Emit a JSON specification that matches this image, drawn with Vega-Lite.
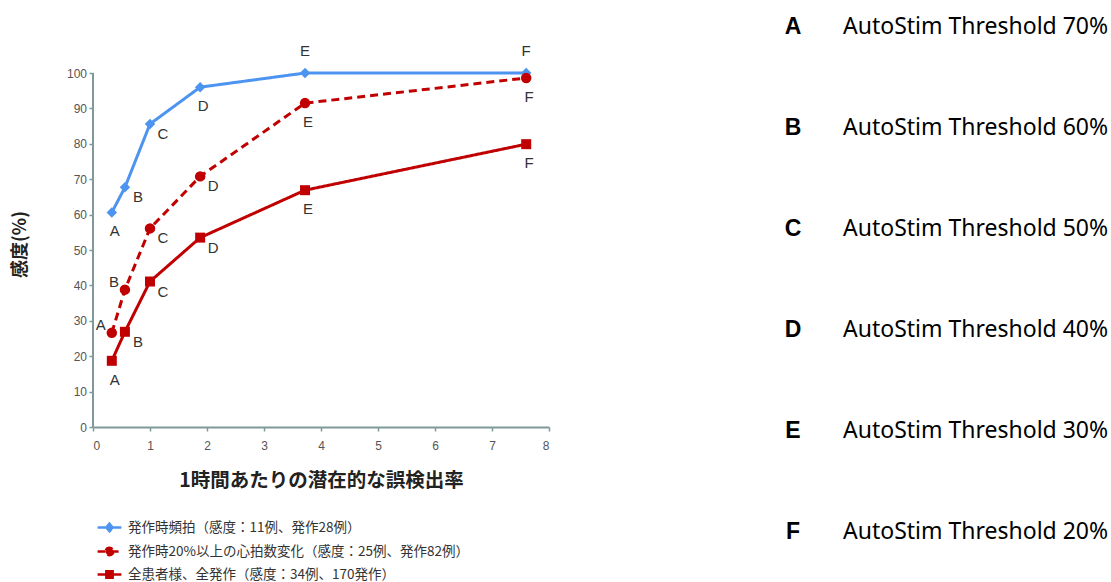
{
  "$schema": "https://vega.github.io/schema/vega-lite/v6.json",
  "background": "white",
  "padding": {"left": 11, "top": 16, "right": 0, "bottom": 0},
  "spacing": 223,
  "config": {"view": {"stroke": null}},
  "datasets": {
    "pts": [
      {"sid": "t", "series": "発作時頻拍（感度：11例、発作28例）", "label": "A", "rate": 0.33, "sens": 60.6},
      {"sid": "t", "series": "発作時頻拍（感度：11例、発作28例）", "label": "B", "rate": 0.56, "sens": 67.7},
      {"sid": "t", "series": "発作時頻拍（感度：11例、発作28例）", "label": "C", "rate": 1.0, "sens": 85.6},
      {"sid": "t", "series": "発作時頻拍（感度：11例、発作28例）", "label": "D", "rate": 1.88, "sens": 96.0},
      {"sid": "t", "series": "発作時頻拍（感度：11例、発作28例）", "label": "E", "rate": 3.72, "sens": 100},
      {"sid": "t", "series": "発作時頻拍（感度：11例、発作28例）", "label": "F", "rate": 7.6, "sens": 100},
      {"sid": "h", "series": "発作時20%以上の心拍数変化（感度：25例、発作82例）", "label": "A", "rate": 0.33, "sens": 26.6},
      {"sid": "h", "series": "発作時20%以上の心拍数変化（感度：25例、発作82例）", "label": "B", "rate": 0.56, "sens": 38.8},
      {"sid": "h", "series": "発作時20%以上の心拍数変化（感度：25例、発作82例）", "label": "C", "rate": 1.0, "sens": 56.1},
      {"sid": "h", "series": "発作時20%以上の心拍数変化（感度：25例、発作82例）", "label": "D", "rate": 1.88, "sens": 70.8},
      {"sid": "h", "series": "発作時20%以上の心拍数変化（感度：25例、発作82例）", "label": "E", "rate": 3.72, "sens": 91.5},
      {"sid": "h", "series": "発作時20%以上の心拍数変化（感度：25例、発作82例）", "label": "F", "rate": 7.6, "sens": 98.6},
      {"sid": "a", "series": "全患者様、全発作（感度：34例、170発作）", "label": "A", "rate": 0.33, "sens": 18.7},
      {"sid": "a", "series": "全患者様、全発作（感度：34例、170発作）", "label": "B", "rate": 0.56, "sens": 26.9},
      {"sid": "a", "series": "全患者様、全発作（感度：34例、170発作）", "label": "C", "rate": 1.0, "sens": 41.1},
      {"sid": "a", "series": "全患者様、全発作（感度：34例、170発作）", "label": "D", "rate": 1.88, "sens": 53.5},
      {"sid": "a", "series": "全患者様、全発作（感度：34例、170発作）", "label": "E", "rate": 3.72, "sens": 66.9},
      {"sid": "a", "series": "全患者様、全発作（感度：34例、170発作）", "label": "F", "rate": 7.6, "sens": 79.9}
    ],
    "keys": [
      {"letter": "A", "desc": "AutoStim Threshold 70%"},
      {"letter": "B", "desc": "AutoStim Threshold 60%"},
      {"letter": "C", "desc": "AutoStim Threshold 50%"},
      {"letter": "D", "desc": "AutoStim Threshold 40%"},
      {"letter": "E", "desc": "AutoStim Threshold 30%"},
      {"letter": "F", "desc": "AutoStim Threshold 20%"}
    ]
  },
  "hconcat": [
    {
      "width": 456,
      "height": 400,
      "data": {"name": "pts"},
      "encoding": {
        "x": {
          "field": "rate", "type": "quantitative",
          "scale": {"domain": [0, 8], "nice": false, "zero": true},
          "axis": {
            "title": "1時間あたりの潜在的な誤検出率", "values": [0,1,2,3,4,5,6,7,8],
            "grid": false, "domainColor": "#7f9999", "domainWidth": 2, "tickColor": "#7f9999", "tickWidth": 1.5, "tickSize": 4,
            "labelFont": "Liberation Sans", "labelFontSize": 12, "labelColor": "#555555", "labelPadding": 9.5,
            "titleFont": "Noto Sans CJK JP", "titleFontSize": 19.5, "titleFontWeight": "bold", "titleColor": "#222222", "titlePadding": 20
          }
        },
        "y": {
          "field": "sens", "type": "quantitative",
          "scale": {"domain": [0, 113], "nice": false},
          "axis": {
            "title": "感度(%)", "values": [0,10,20,30,40,50,60,70,80,90,100],
            "grid": false, "domain": false, "tickColor": "#7f9999", "tickWidth": 1.5, "tickSize": 4,
            "labelFont": "Liberation Sans", "labelFontSize": 12, "labelColor": "#555555", "labelPadding": 2.5,
            "titleFont": "Noto Sans CJK JP", "titleFontSize": 18, "titleFontWeight": "bold", "titleColor": "#222222", "titlePadding": 37, "titleY": 217
          }
        }
      },
      "layer": [
        {
          "mark": {"type": "rule", "color": "#7f9999", "strokeWidth": 2},
          "encoding": {"x": {"datum": 0}, "y": {"datum": 0}, "y2": {"datum": 100}}
        },
        {
          "mark": {"type": "line", "strokeWidth": 3},
          "encoding": {
            "color": {
              "field": "series", "type": "nominal",
              "scale": {
                "domain": ["発作時頻拍（感度：11例、発作28例）", "発作時20%以上の心拍数変化（感度：25例、発作82例）", "全患者様、全発作（感度：34例、170発作）"],
                "range": ["#4d94f0", "#c00000", "#c00000"]
              },
              "legend": {
                "title": null, "orient": "none", "legendX": 8, "legendY": 492,
                "labelFont": "Noto Sans CJK JP", "labelFontSize": 13.5, "labelColor": "#333333", "labelOffset": 10, "labelLimit": 0,
                "symbolSize": 196, "symbolStrokeWidth": 2.5, "rowPadding": 5,
                "encode": {
                  "symbols": {
                    "update": {
                      "shape": {"signal": "datum.index == 0 ? 'M-1.7,0L1.7,0M0,-0.55L0.45,0L0,0.55L-0.45,0Z' : datum.index == 1 ? 'M-1.7,0L1.7,0M0.55,0A0.55,0.55,0,1,1,-0.55,0A0.55,0.55,0,1,1,0.55,0Z' : 'M-1.7,0L1.7,0M-0.45,-0.45L0.45,-0.45L0.45,0.45L-0.45,0.45Z'"},
                      "fill": {"signal": "datum.index == 0 ? '#4d94f0' : '#c00000'"},
                      "stroke": {"signal": "datum.index == 0 ? '#4d94f0' : '#c00000'"},
                      "strokeDash": {"signal": "datum.index == 1 ? [5, 3] : [1, 0]"}
                    }
                  }
                }
              }
            },
            "strokeDash": {
              "field": "series", "type": "nominal",
              "scale": {
                "domain": ["発作時頻拍（感度：11例、発作28例）", "発作時20%以上の心拍数変化（感度：25例、発作82例）", "全患者様、全発作（感度：34例、170発作）"],
                "range": [[1, 0], [8, 5], [1, 0]]
              },
              "legend": null
            }
          }
        },
        {
          "transform": [{"filter": "datum.sid == 't'"}],
          "mark": {"type": "point", "filled": true, "opacity": 1, "shape": "diamond", "size": 110},
          "encoding": {"color": {"field": "series", "type": "nominal", "legend": null}}
        },
        {
          "transform": [{"filter": "datum.sid == 'h'"}],
          "mark": {"type": "point", "filled": true, "opacity": 1, "shape": "circle", "size": 110},
          "encoding": {"color": {"field": "series", "type": "nominal", "legend": null}}
        },
        {
          "transform": [{"filter": "datum.sid == 'a'"}],
          "mark": {"type": "point", "filled": true, "opacity": 1, "shape": "square", "size": 100},
          "encoding": {"color": {"field": "series", "type": "nominal", "legend": null}}
        },
        {
          "transform": [{"filter": "(datum.sid == 't' && (datum.label == 'A' || datum.label == 'D')) || (datum.sid == 'h' && (datum.label == 'E' || datum.label == 'F')) || (datum.sid == 'a' && (datum.label == 'A' || datum.label == 'E' || datum.label == 'F'))"}],
          "mark": {"type": "text", "dx": 3, "dy": 19, "font": "Liberation Sans", "fontSize": 15, "color": "#333333"},
          "encoding": {"text": {"field": "label"}}
        },
        {
          "transform": [{"filter": "(datum.label == 'B' && datum.sid != 'h') || datum.label == 'C' || (datum.sid == 'h' && datum.label == 'D') || (datum.sid == 'a' && datum.label == 'D')"}],
          "mark": {"type": "text", "dx": 13, "dy": 10, "font": "Liberation Sans", "fontSize": 15, "color": "#333333"},
          "encoding": {"text": {"field": "label"}}
        },
        {
          "transform": [{"filter": "datum.sid == 't' && (datum.label == 'E' || datum.label == 'F')"}],
          "mark": {"type": "text", "dx": 0, "dy": -22, "font": "Liberation Sans", "fontSize": 15, "color": "#333333"},
          "encoding": {"text": {"field": "label"}}
        },
        {
          "transform": [{"filter": "datum.sid == 'h' && (datum.label == 'A' || datum.label == 'B')"}],
          "mark": {"type": "text", "dx": -11, "dy": -8, "font": "Liberation Sans", "fontSize": 15, "color": "#333333"},
          "encoding": {"text": {"field": "label"}}
        }
      ]
    },
    {
      "width": 40,
      "height": 505,
      "data": {"name": "keys"},
      "encoding": {
        "y": {"field": "letter", "type": "ordinal", "scale": {"type": "point", "padding": 0}, "axis": null}
      },
      "layer": [
        {
          "mark": {"type": "text", "align": "center", "font": "Liberation Sans", "fontSize": 23, "fontWeight": "bold", "color": "#000000"},
          "encoding": {"text": {"field": "letter"}}
        },
        {
          "mark": {"type": "text", "align": "left", "dx": 50, "font": "Noto Sans", "fontSize": 23, "color": "#000000"},
          "encoding": {"text": {"field": "desc"}}
        }
      ]
    }
  ]
}
